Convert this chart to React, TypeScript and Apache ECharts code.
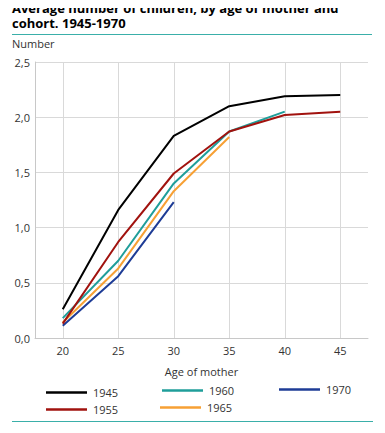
import React, { useEffect, useRef } from "react";
import * as echarts from "echarts";

const ages = ["20", "25", "30", "35", "40", "45"];
const yTicks = [0, 0.5, 1, 1.5, 2, 2.5];
const cohorts = ["1945", "1955", "1960", "1965", "1970"];
const colors = ["#000000", "#a1120e", "#1f9e9a", "#f7a034", "#1e3c96"];
const v1945 = [0.26, 1.16, 1.83, 2.1, 2.19, 2.2];
const v1955 = [0.13, 0.87, 1.49, 1.87, 2.02, 2.05];
const v1960 = [0.18, 0.7, 1.4, 1.87, 2.05];
const v1965 = [0.14, 0.63, 1.33, 1.82];
const v1970 = [0.11, 0.56, 1.23];
const values = [v1945, v1955, v1960, v1965, v1970];

const titleLines = ["Average number of children, by age of mother and", "cohort. 1945-1970"];

const legendPos = [
  { left: 46, top: 387 },
  { left: 46, top: 404 },
  { left: 162, top: 385 },
  { left: 160, top: 402 },
  { left: 279, top: 384 },
];

const FONT = "'Open Sans', 'DejaVu Sans', sans-serif";

export default function App() {
  const ref = useRef<HTMLDivElement>(null);
  useEffect(() => {
    if (!ref.current) return;
    const chart = echarts.init(ref.current, null, { renderer: "svg" });
    chart.setOption({
      animation: false,
      textStyle: { fontFamily: FONT },
      grid: { left: 35, right: 17, top: 62, bottom: 95, containLabel: false },
      graphic: [
        ...titleLines.map((t, i) => ({
          type: "text",
          x: 12,
          y: 1 + i * 15.5,
          style: {
            text: t,
            font: `bold 13px ${FONT}`,
            fill: "#000",
            verticalAlign: "top",
          },
        })),
        {
          type: "line",
          shape: { x1: 12, y1: 34.5, x2: 372, y2: 34.5 },
          style: { stroke: "#3aafa9", lineWidth: 1.2 },
        },
        {
          type: "text",
          x: 12,
          y: 37.5,
          style: { text: "Number", font: `11px ${FONT}`, fill: "#333", verticalAlign: "top" },
        },
        {
          type: "line",
          shape: { x1: 12, y1: 421.5, x2: 373, y2: 421.5 },
          style: { stroke: "#3aafa9", lineWidth: 1.2 },
        },
      ],
      legend: cohorts.map((c, i) => ({
        data: [c],
        left: legendPos[i].left,
        top: legendPos[i].top,
        icon: "rect",
        itemWidth: 41,
        itemHeight: 2.5,
        itemGap: 0,
        padding: 0,
        textStyle: { fontFamily: FONT, fontSize: 11, color: "#333", padding: [0, 0, 0, 1] },
        selectedMode: false,
      })),
      xAxis: {
        type: "category",
        data: ages,
        boundaryGap: true,
        name: "Age of mother",
        nameLocation: "middle",
        nameGap: 28,
        nameTextStyle: { fontFamily: FONT, fontSize: 11, color: "#333" },
        axisLine: { show: true, lineStyle: { color: "#c8c8c8", width: 1 } },
        axisTick: { show: false },
        axisLabel: { fontFamily: FONT, fontSize: 11, color: "#333", margin: 7 },
        splitLine: { show: true, alignWithLabel: true, lineStyle: { color: "#d9d9d9", width: 1 } },
      },
      yAxis: {
        type: "value",
        min: 0,
        max: 2.5,
        interval: 0.5,
        axisLine: { show: true, lineStyle: { color: "#c8c8c8", width: 1 } },
        axisTick: { show: false },
        axisLabel: {
          fontFamily: FONT,
          fontSize: 11,
          color: "#333",
          margin: 5,
          formatter: (v: number) => {
            const t = yTicks.find((x) => Math.abs(x - v) < 1e-9);
            return (t !== undefined ? t : v).toFixed(1).replace(".", ",");
          },
        },
        splitLine: { show: true, lineStyle: { color: "#d9d9d9", width: 1 } },
      },
      series: cohorts.map((c, i) => ({
        name: c,
        type: "line",
        data: values[i],
        symbol: "none",
        lineStyle: { color: colors[i], width: 2 },
        itemStyle: { color: colors[i] },
        z: 10 - i,
      })),
    });
    return () => chart.dispose();
  }, []);
  return <div ref={ref} style={{ width: 385, height: 433, margin: -8 }} />;
}
